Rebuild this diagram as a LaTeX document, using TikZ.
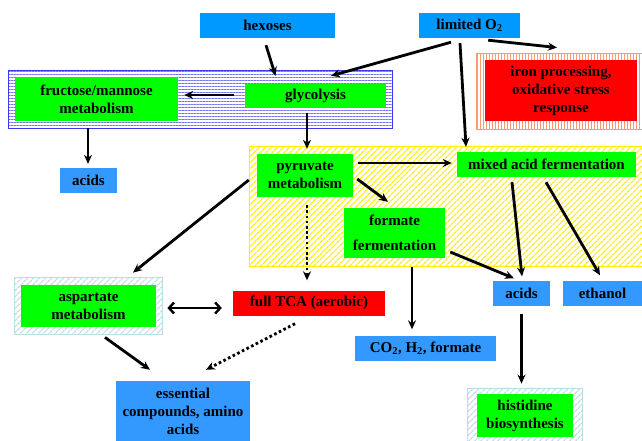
\documentclass[tikz,border=0pt]{standalone}
\usepackage{fontspec}
\setmainfont{Liberation Serif}
\usetikzlibrary{arrows.meta, patterns.meta, positioning}
\definecolor{metabgreen}{HTML}{00FF00}
\definecolor{inputblue}{HTML}{0099FF}
\definecolor{prodblue}{HTML}{3399FF}
\definecolor{stressred}{HTML}{FF0000}
\definecolor{bandblue}{HTML}{3A3AF0}
\definecolor{ironorange}{HTML}{FF9A70}
\definecolor{fermyellow}{HTML}{FFF000}
\definecolor{aminocyan}{HTML}{B8E0E6}
\tikzset{
  box/.style={inner sep=0pt, align=center, text=black, font=\fontsize{15}{18}\selectfont\bfseries},
  metab/.style={box, fill=metabgreen},
  input/.style={box, fill=inputblue},
  prod/.style={box, fill=prodblue},
  stress/.style={box, fill=stressred},
  band/.style={draw=bandblue, line width=0.8pt, pattern={Lines[angle=0, distance=3pt, line width=0.6pt]}, pattern color=bandblue!70},
  ironframe/.style={draw=ironorange, line width=0.8pt, pattern={Lines[angle=90, distance=3pt, line width=0.9pt]}, pattern color=ironorange},
  fermzone/.style={draw=fermyellow, line width=0.8pt, pattern={Lines[angle=45, distance=4pt, line width=1.3pt]}, pattern color=fermyellow},
  aminoframe/.style={draw=aminocyan, line width=0.8pt, pattern={Lines[angle=45, distance=4pt, line width=1.3pt]}, pattern color=aminocyan},
  flow/.style={line width=2.8pt, -{Stealth[length=9pt, width=8pt]}},
  maybe/.style={line width=2.8pt, dash pattern=on 2.6pt off 2.6pt, -{Stealth[length=9pt, width=8pt]}},
  exchange/.style={line width=2.4pt, {Straight Barb[length=5pt, width=11pt]}-{Straight Barb[length=5pt, width=11pt]}}
}
\begin{document}
\begin{tikzpicture}[x=1pt, y=-1pt]
  \useasboundingbox (0,0) rectangle (642,440);
  \node[band, minimum width=384, minimum height=58] (glyband) at (200,99) {};
  \node[ironframe, minimum width=166, minimum height=76] (ironframe) at (559,91) {};
  \node[fermzone, minimum width=396, minimum height=120] (fermzone) at (447,206) {};
  \node[aminoframe, minimum width=148, minimum height=57] (aspframe) at (88,305.5) {};
  \node[aminoframe, minimum width=115, minimum height=56] (hisframe) at (524.5,416) {};

  \node[input, minimum width=135, minimum height=25] (hexoses) at (267.5,25.5) {hexoses};
  \node[input, minimum width=101, minimum height=25] (limO2) at (469.5,25.5) {limited O\textsubscript{2}};
  \node[metab, minimum width=163, minimum height=44] (fruct) at (96.5,99) {fructose/mannose\\metabolism};
  \node[metab, minimum width=141, minimum height=24] (glyc) at (315.5,96) {glycolysis};
  \node[stress, minimum width=152, minimum height=61] (iron) at (561,90.5) {iron processing,\\oxidative stress\\response};
  \node[prod, minimum width=57, minimum height=25] (acidsL) at (88.5,180.5) {acids};
  \node[metab, minimum width=96, minimum height=43] (pyr) at (305,175.5) {pyruvate\\metabolism};
  \node[metab, minimum width=179, minimum height=25] (mixed) at (546.5,164.5) {mixed acid fermentation};
  \node[metab, minimum width=101, minimum height=50] (formate) at (394.5,233) {formate\\[7pt]fermentation};
  \node[metab, minimum width=135, minimum height=42] (asp) at (88.5,306) {aspartate\\metabolism};
  \node[stress, minimum width=152, minimum height=25] (tca) at (309,303) {full TCA (aerobic)};
  \node[prod, minimum width=57, minimum height=25] (acidsR) at (521.5,293) {acids};
  \node[prod, minimum width=79, minimum height=25] (ethanol) at (602.5,293) {ethanol};
  \node[prod, minimum width=141, minimum height=25] (gases) at (425.5,348) {CO\textsubscript{2}, H\textsubscript{2}, formate};
  \node[prod, minimum width=134, minimum height=60] (essential) at (183,411) {essential\\compounds, amino\\acids};
  \node[metab, minimum width=96, minimum height=43] (his) at (525,415.5) {histidine\\biosynthesis};

  \draw[flow] ([xshift=-1.5pt, yshift=-7pt]hexoses.south) -- ([xshift=-40pt, yshift=8pt]glyc.north);
  \draw[flow] ([xshift=-18.5pt, yshift=-4pt]limO2.south) -- ([xshift=15.5pt, yshift=8pt]glyc.north);
  \draw[flow] ([xshift=-32pt, yshift=-2pt]limO2.south east) -- ([xshift=-2pt, yshift=5pt]ironframe.north);
  \draw[flow] ([xshift=-9.5pt, yshift=-5pt]limO2.south) -- ([xshift=-80.5pt, yshift=5pt]mixed.north);
  \draw[flow] ([xshift=-11pt, yshift=1pt]glyc.west) -- ([xshift=6pt, yshift=4pt]fruct.east);
  \draw[flow] ([xshift=-8.5pt, yshift=-7pt]fruct.south) -- ([xshift=-0.5pt, yshift=4pt]acidsL.north);
  \draw[flow] ([xshift=-8.5pt, yshift=-5pt]glyc.south) -- ([xshift=2pt, yshift=5pt]pyr.north);
  \draw[flow] ([xshift=5pt, yshift=12.5pt]pyr.east) -- ([xshift=-5pt, yshift=1.5pt]mixed.west);
  \draw[flow] ([xshift=4pt, yshift=-3.5pt]pyr.east) -- ([xshift=-6.5pt, yshift=6pt]formate.north);
  \draw[flow] ([xshift=-8pt, yshift=-4.5pt]pyr.west) -- ([xshift=45pt, yshift=4pt]aspframe.north);
  \draw[maybe] ([xshift=2pt, yshift=-8pt]pyr.south) -- ([xshift=-2pt, yshift=10pt]tca.north);
  \draw[flow] ([xshift=17.5pt, yshift=-9pt]formate.south) -- ([xshift=-13.5pt, yshift=6pt]gases.north);
  \draw[flow] ([xshift=5pt, yshift=-19pt]formate.east) -- ([xshift=-7.5pt, yshift=2pt]acidsR.north);
  \draw[flow] ([xshift=-34.5pt, yshift=-5pt]mixed.south) -- ([xshift=0.5pt, yshift=4pt]acidsR.north);
  \draw[flow] ([xshift=-0.5pt, yshift=-5pt]mixed.south) -- ([xshift=-2.5pt, yshift=5pt]ethanol.north);
  \draw[exchange] ([xshift=5pt, yshift=-2.5pt]aspframe.east) -- ([xshift=-11pt, yshift=-5pt]tca.west);
  \draw[flow] ([xshift=17pt, yshift=-3pt]aspframe.south) -- ([xshift=-33pt, yshift=11pt]essential.north);
  \draw[maybe] ([xshift=-14pt, yshift=-8pt]tca.south) -- ([xshift=23pt, yshift=11pt]essential.north);
  \draw[flow] ([yshift=-8pt]acidsR.south) -- ([xshift=-3pt, yshift=4pt]hisframe.north);
\end{tikzpicture}
\end{document}
